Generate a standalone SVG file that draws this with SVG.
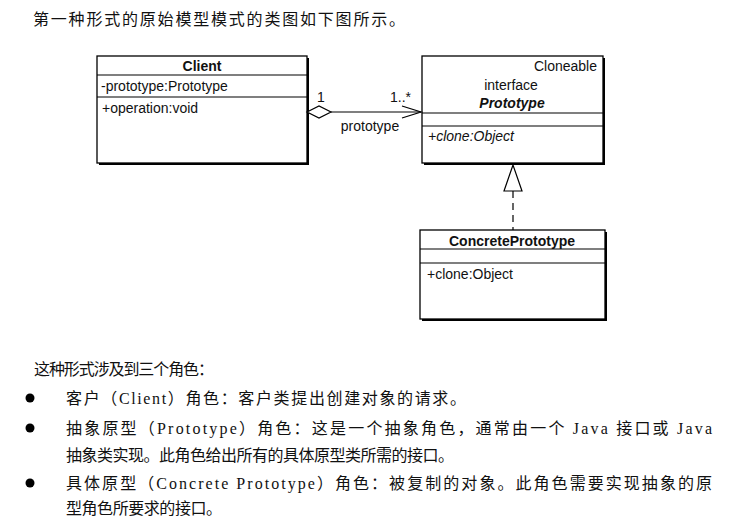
<svg xmlns="http://www.w3.org/2000/svg" width="734" height="518" viewBox="0 0 734 518">
<style>
.box{fill:#fff;stroke:#000;stroke-width:1.3}
.sh{fill:#000}
.ln{stroke:#000;stroke-width:1.2;fill:none}
.t{font-family:"Liberation Sans",Arial,sans-serif;font-size:14px;fill:#111}
.b{font-weight:bold}
.i{font-style:italic}
.m{text-anchor:middle}
.cn{font-family:"Liberation Serif","Noto Sans CJK SC",serif;font-size:16px;fill:#111}
</style>
<rect width="734" height="518" fill="#fff"/>
<text class="cn" x="33" y="25" font-size="17" textLength="372" lengthAdjust="spacing">第一种形式的原始模型模式的类图如下图所示。</text>

<g id="client">
<rect class="sh" x="99" y="58" width="210" height="107"/>
<rect class="box" x="97" y="56" width="210" height="107"/>
<line class="ln" x1="97" y1="75" x2="307" y2="75"/>
<line class="ln" x1="97" y1="97" x2="307" y2="97"/>
<text class="t b m" x="202" y="71">Client</text>
<text class="t" x="101" y="91">-prototype:Prototype</text>
<text class="t" x="102" y="113">+operation:void</text>
</g>

<g id="prototype">
<rect class="sh" x="424" y="58" width="181" height="107"/>
<rect class="box" x="422" y="56" width="181" height="107"/>
<line class="ln" x1="422" y1="113" x2="603" y2="113"/>
<line class="ln" x1="422" y1="126" x2="603" y2="126"/>
<text class="t" x="597" y="71" text-anchor="end">Cloneable</text>
<text class="t m" x="511" y="90">interface</text>
<text class="t b i m" x="512" y="108">Prototype</text>
<text class="t i" x="428" y="141">+clone:Object</text>
</g>

<g id="concrete">
<rect class="sh" x="422" y="232" width="185" height="89"/>
<rect class="box" x="420" y="230" width="185" height="89"/>
<line class="ln" x1="420" y1="249" x2="605" y2="249"/>
<line class="ln" x1="420" y1="263" x2="605" y2="263"/>
<text class="t b m" x="512" y="246">ConcretePrototype</text>
<text class="t" x="427" y="279">+clone:Object</text>
</g>

<g id="connectors">
<line class="ln" x1="331" y1="112" x2="421" y2="112"/>
<polygon points="307,112 319,106 331,112 319,118" fill="#fff" stroke="#000" stroke-width="1.2"/>
<polyline class="ln" points="402,106 421,112 402,118"/>
<text class="t" x="317" y="102">1</text>
<text class="t" x="390" y="102">1..*</text>
<text class="t m" x="370" y="131">prototype</text>
<line class="ln" x1="513" y1="191" x2="513" y2="230" stroke-dasharray="7,5"/>
<polygon points="513,165 504,191 522,191" fill="#fff" stroke="#000" stroke-width="1.2"/>
</g>

<text class="cn" x="34" y="375" textLength="180" lengthAdjust="spacing">这种形式涉及到三个角色：</text>
<circle cx="30" cy="398" r="4.5" fill="#000"/>
<circle cx="30" cy="428" r="4.5" fill="#000"/>
<circle cx="30" cy="483" r="4.5" fill="#000"/>
<text class="cn" x="66" y="404" textLength="400" lengthAdjust="spacing">客户（Client）角色：客户类提出创建对象的请求。</text>
<text class="cn" x="66" y="434" textLength="646" lengthAdjust="spacing">抽象原型（Prototype）角色：这是一个抽象角色，通常由一个 Java 接口或 Java</text>
<text class="cn" x="66" y="461" textLength="388" lengthAdjust="spacing">抽象类实现。此角色给出所有的具体原型类所需的接口。</text>
<text class="cn" x="66" y="489" textLength="646" lengthAdjust="spacing">具体原型（Concrete Prototype）角色：被复制的对象。此角色需要实现抽象的原</text>
<text class="cn" x="66" y="514" textLength="156" lengthAdjust="spacing">型角色所要求的接口。</text>
</svg>
